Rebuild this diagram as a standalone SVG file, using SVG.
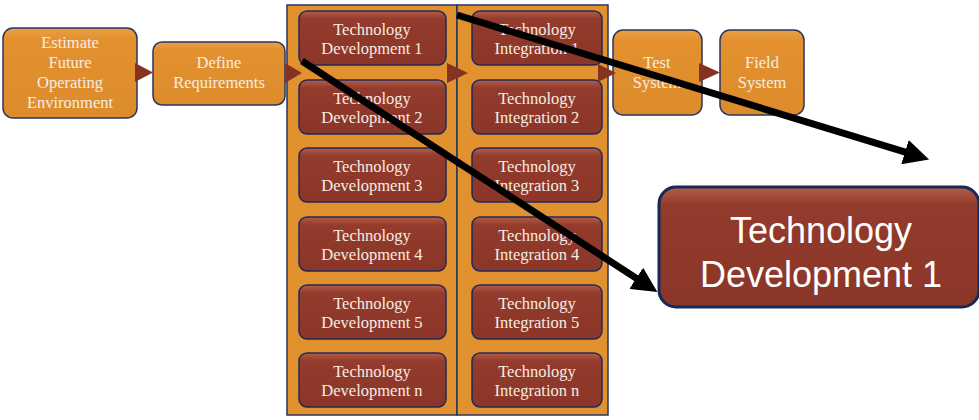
<svg xmlns="http://www.w3.org/2000/svg" width="979" height="420" viewBox="0 0 979 420">
  <defs>
    <linearGradient id="gOrange" x1="0" y1="0" x2="0" y2="1">
      <stop offset="0" stop-color="#EAA046"/>
      <stop offset="0.12" stop-color="#E3912F"/>
      <stop offset="1" stop-color="#DD8C2C"/>
    </linearGradient>
    <linearGradient id="gRed" x1="0" y1="0" x2="0" y2="1">
      <stop offset="0" stop-color="#B35E48"/>
      <stop offset="0.15" stop-color="#933B2C"/>
      <stop offset="1" stop-color="#8A3628"/>
    </linearGradient>
    <marker id="head" viewBox="0 0 3.6 3.6" markerWidth="3.6" markerHeight="3.6" refX="0.3" refY="1.8" orient="auto">
      <path d="M0,0 L3.6,1.8 L0,3.6 z" fill="#000"/>
    </marker>
    <style>
      .step { fill: url(#gOrange); stroke: #2A3560; stroke-width: 1.5; }
      .tech { fill: url(#gRed); stroke: #1E2A5A; stroke-width: 1.5; }
      .panel { fill: #E2912F; stroke: #2A3560; stroke-width: 1.5; }
      .flow { fill: #86321F; }
      .lbl { font-family: "Liberation Serif", "DejaVu Serif", serif; font-size: 16.5px; fill: #F6ECE2; text-anchor: middle; }
      .big { font-family: "Liberation Sans", Arial, sans-serif; font-size: 36px; fill: #FFFFFF; text-anchor: middle; }
      .pointer { stroke: #000; stroke-width: 7; fill: none; marker-end: url(#head); }
    </style>
  </defs>

  <!-- process chain -->
  <g id="estimate">
    <rect class="step" x="3" y="28" width="134" height="90" rx="10"/>
    <text class="lbl" x="70" y="48">Estimate</text>
    <text class="lbl" x="70" y="68">Future</text>
    <text class="lbl" x="70" y="88">Operating</text>
    <text class="lbl" x="70" y="108">Environment</text>
  </g>
  <g id="define">
    <rect class="step" x="153" y="42" width="132" height="63" rx="9"/>
    <text class="lbl" x="219" y="68">Define</text>
    <text class="lbl" x="219" y="88">Requirements</text>
  </g>

  <g id="devPanel">
    <rect class="panel" x="287" y="5" width="170" height="410"/>
  </g>
  <g id="intPanel">
    <rect class="panel" x="457" y="5" width="151" height="410"/>
  </g>

  <g id="dev1"><rect class="tech" x="299" y="11" width="147" height="54" rx="8"/><text class="lbl" x="372" y="35">Technology</text><text class="lbl" x="372" y="54">Development 1</text></g>
  <g id="dev2"><rect class="tech" x="299" y="80" width="147" height="54" rx="8"/><text class="lbl" x="372" y="104">Technology</text><text class="lbl" x="372" y="123">Development 2</text></g>
  <g id="dev3"><rect class="tech" x="299" y="148" width="147" height="54" rx="8"/><text class="lbl" x="372" y="172">Technology</text><text class="lbl" x="372" y="191">Development 3</text></g>
  <g id="dev4"><rect class="tech" x="299" y="217" width="147" height="54" rx="8"/><text class="lbl" x="372" y="241">Technology</text><text class="lbl" x="372" y="260">Development 4</text></g>
  <g id="dev5"><rect class="tech" x="299" y="285" width="147" height="54" rx="8"/><text class="lbl" x="372" y="309">Technology</text><text class="lbl" x="372" y="328">Development 5</text></g>
  <g id="devN"><rect class="tech" x="299" y="353" width="147" height="54" rx="8"/><text class="lbl" x="372" y="377">Technology</text><text class="lbl" x="372" y="396">Development n</text></g>

  <g id="int1"><rect class="tech" x="472" y="11" width="130" height="54" rx="8"/><text class="lbl" x="537" y="35">Technology</text><text class="lbl" x="537" y="54">Integration 1</text></g>
  <g id="int2"><rect class="tech" x="472" y="80" width="130" height="54" rx="8"/><text class="lbl" x="537" y="104">Technology</text><text class="lbl" x="537" y="123">Integration 2</text></g>
  <g id="int3"><rect class="tech" x="472" y="148" width="130" height="54" rx="8"/><text class="lbl" x="537" y="172">Technology</text><text class="lbl" x="537" y="191">Integration 3</text></g>
  <g id="int4"><rect class="tech" x="472" y="217" width="130" height="54" rx="8"/><text class="lbl" x="537" y="241">Technology</text><text class="lbl" x="537" y="260">Integration 4</text></g>
  <g id="int5"><rect class="tech" x="472" y="285" width="130" height="54" rx="8"/><text class="lbl" x="537" y="309">Technology</text><text class="lbl" x="537" y="328">Integration 5</text></g>
  <g id="intN"><rect class="tech" x="472" y="353" width="130" height="54" rx="8"/><text class="lbl" x="537" y="377">Technology</text><text class="lbl" x="537" y="396">Integration n</text></g>

  <g id="test">
    <rect class="step" x="613" y="30" width="89" height="85" rx="10"/>
    <text class="lbl" x="657" y="68">Test</text>
    <text class="lbl" x="657" y="88">System</text>
  </g>
  <g id="field">
    <rect class="step" x="720" y="30" width="84" height="85" rx="10"/>
    <text class="lbl" x="762" y="68">Field</text>
    <text class="lbl" x="762" y="88">System</text>
  </g>

  <!-- enlarged callout -->
  <g id="callout">
    <rect x="659" y="187" width="320" height="120" rx="17" fill="url(#gRed)" stroke="#14285A" stroke-width="3"/>
    <text class="big" x="821" y="243">Technology</text>
    <text class="big" x="821" y="287">Development 1</text>
  </g>

  <!-- connectors -->
  <g id="connectors">
    <polygon class="flow" points="135,63 153,72.5 135,82"/>
    <polygon class="flow" points="285,63 302,73 285,83"/>
    <polygon class="flow" points="447,63 468,73 447,83"/>
    <polygon class="flow" points="598,64 616,73 598,82"/>
    <polygon class="flow" points="699,63 720,72.5 699,82"/>
    <line class="pointer" x1="302" y1="61" x2="638" y2="279.4"/>
    <line class="pointer" x1="457" y1="15" x2="907" y2="152.7"/>
  </g>
</svg>
